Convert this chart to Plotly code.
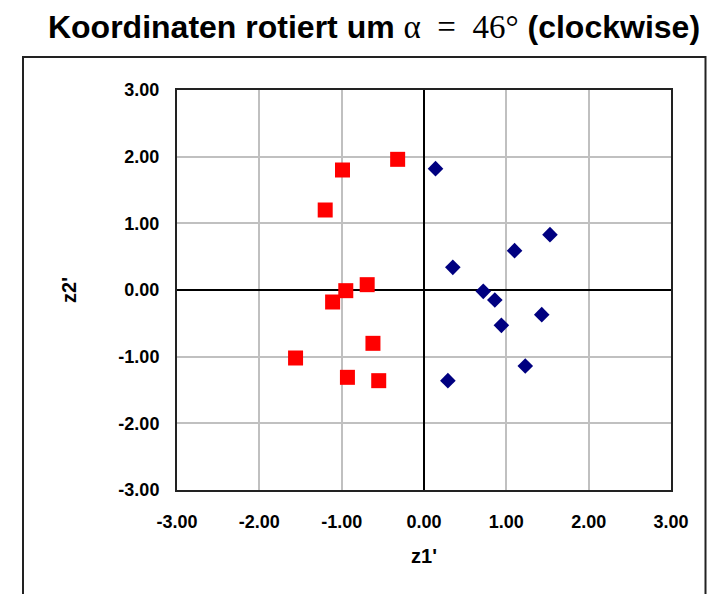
import plotly.graph_objects as go

# Data
red_x = [-0.32, -0.99, -1.20, -0.69, -0.95, -1.11, -0.62, -1.56, -0.93, -0.55]
red_y = [1.96, 1.80, 1.20, 0.08, -0.01, -0.18, -0.80, -1.02, -1.31, -1.36]
blue_x = [0.14, 1.53, 1.10, 0.35, 0.72, 0.86, 1.43, 0.94, 1.23, 0.29]
blue_y = [1.82, 0.83, 0.59, 0.34, -0.02, -0.15, -0.37, -0.53, -1.14, -1.36]
tick_vals = [-3, -2, -1, 0, 1, 2, 3]
tick_text = ["-3.00", "-2.00", "-1.00", "0.00", "1.00", "2.00", "3.00"]

W, H = 708, 594
L, R, T, B = 177, 671, 90, 490

fig = go.Figure()
fig.add_trace(go.Scatter(x=blue_x, y=blue_y, mode="markers",
                         marker=dict(symbol="diamond", size=12, color="#000080",
                                     line=dict(width=0)),
                         showlegend=False, hoverinfo="x+y"))
fig.add_trace(go.Scatter(x=red_x, y=red_y, mode="markers",
                         marker=dict(symbol="square", size=15, color="#FF0000",
                                     line=dict(width=0)),
                         showlegend=False, hoverinfo="x+y"))

tickfont = dict(family="Liberation Sans, Arial", size=18, color="#000000", weight="bold")
titlefont = dict(family="Liberation Sans, Arial", size=20, color="#000000", weight="bold")
axis_common = dict(
    range=[-3, 3], tickvals=tick_vals, ticktext=tick_text,
    showgrid=True, gridcolor="#C0C0C0", gridwidth=1.5,
    zeroline=True, zerolinecolor="#000000", zerolinewidth=1.5,
    showline=True, linecolor="#222222", linewidth=2, mirror=True,
    ticks="", tickfont=tickfont, fixedrange=True,
)

fig.update_layout(
    width=W, height=H,
    margin=dict(l=L, r=W - R, t=T, b=H - B),
    paper_bgcolor="white", plot_bgcolor="white",
    xaxis=dict(axis_common, ticklabelstandoff=14,
               title=dict(text="z1'", standoff=18, font=titlefont)),
    yaxis=dict(axis_common, ticklabelstandoff=12,
               title=dict(text="z2'", standoff=36, font=titlefont)),
    title=dict(
        text="<b>Koordinaten rotiert um </b><span style='font-family:Liberation Serif, serif;font-size:33px'>α\u2002=\u200246°</span><b> (clockwise)</b>",
        x=374 / W, xref="container", xanchor="center",
        y=1 - 27 / H, yref="container", yanchor="middle",
        font=dict(family="Liberation Sans, Arial", size=32, color="#000000"),
    ),
)

# outer chart-area border
pw, ph = R - L, B - T
fig.add_shape(type="rect", xref="paper", yref="paper",
              x0=(23 - L) / pw, x1=(705.5 - L) / pw,
              y0=(B - 620) / ph, y1=(B - 57) / ph,
              line=dict(color="#222222", width=2), fillcolor="rgba(0,0,0,0)", layer="below")

fig.write_html("out.html")
